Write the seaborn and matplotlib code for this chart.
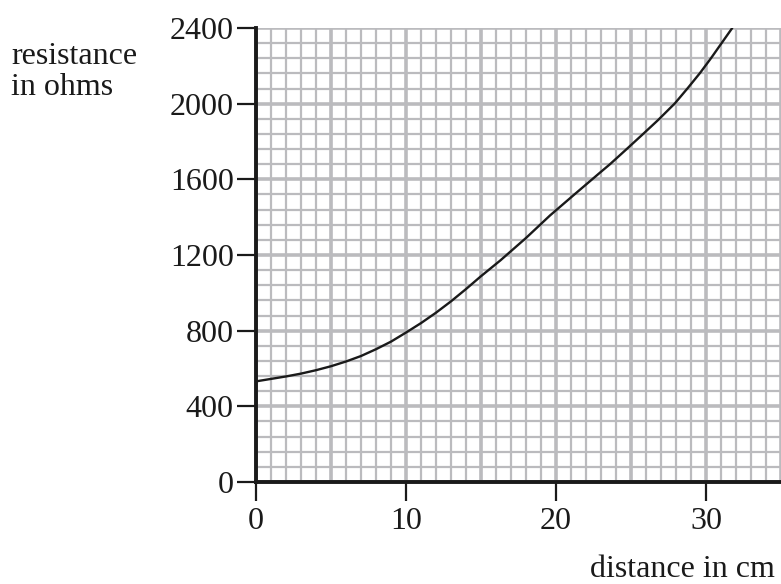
import matplotlib
matplotlib.use("Agg")
import matplotlib.pyplot as plt
import seaborn as sns
import pandas as pd
import numpy as np
from matplotlib.ticker import MultipleLocator

distance_cm = [0, 1, 2, 3, 4, 5, 6, 7, 8, 9, 10, 11, 12, 13, 14, 15, 16.3, 18, 19.6, 21.3,
               23, 23.6, 24.6, 25.7, 26.8, 27.93, 28.78, 29.6, 30.33, 31.04, 31.75]
resistance_ohm = [532, 545, 558, 573, 591, 612, 637, 666, 702, 742, 790, 840, 895, 955, 1020,
                  1088, 1172, 1290, 1409, 1525, 1640, 1680, 1752, 1832, 1913, 2002, 2082,
                  2162, 2240, 2320, 2400]
x_ticks = [0, 10, 20, 30]
y_ticks = [0, 400, 800, 1200, 1600, 2000, 2400]

sns.set_theme(style="white")
plt.rcParams['font.family'] = ['Liberation Serif', 'DejaVu Serif']

df = pd.DataFrame({"distance": distance_cm, "resistance": resistance_ohm})

fig = plt.figure(figsize=(7.81, 5.84), dpi=100)
ax = fig.add_axes([256/781, 1-482/584, 1-256/781, (482-28)/584])

grid_col = "#bbbbbe"
ax.xaxis.set_minor_locator(MultipleLocator(1))
ax.yaxis.set_minor_locator(MultipleLocator(80))
ax.set_xlim(0, 35)
ax.set_ylim(0, 2400)
ax.set_xticks(x_ticks)
ax.set_yticks(y_ticks)
ax.set_axisbelow(True)
ax.grid(which="minor", color=grid_col, linewidth=1.6)
for v in np.arange(0, 35.01, 5):
    ax.axvline(v, color=grid_col, linewidth=2.6, zorder=0.6)
for v in np.arange(0, 2400.01, 400):
    ax.axhline(v, color=grid_col, linewidth=2.6, zorder=0.6)

sns.lineplot(data=df, x="distance", y="resistance", ax=ax, color="#1a1a1a",
             linewidth=1.7, zorder=3)

for s in ["top", "right"]:
    ax.spines[s].set_visible(False)
for s in ["left", "bottom"]:
    ax.spines[s].set_linewidth(2.8)
    ax.spines[s].set_color("#1a1a1a")
    ax.spines[s].set_zorder(4)

ax.tick_params(which="major", direction="out", length=14, width=1.6, color="#1a1a1a",
               labelsize=23, labelcolor="#1a1a1a", pad=2, left=True, bottom=True)
ax.tick_params(axis="x", which="major", pad=4)
ax.tick_params(which="minor", length=0)
ax.set_xlabel("")
ax.set_ylabel("")

fig.text(11/781, 1-95/584, "resistance\nin ohms", fontsize=23, color="#1a1a1a",
         ha="left", va="baseline", linespacing=1.07)
fig.text(775/781, 1-577/584, "distance in cm", fontsize=23, color="#1a1a1a",
         ha="right", va="baseline")

fig.savefig("out.png", dpi=100)
